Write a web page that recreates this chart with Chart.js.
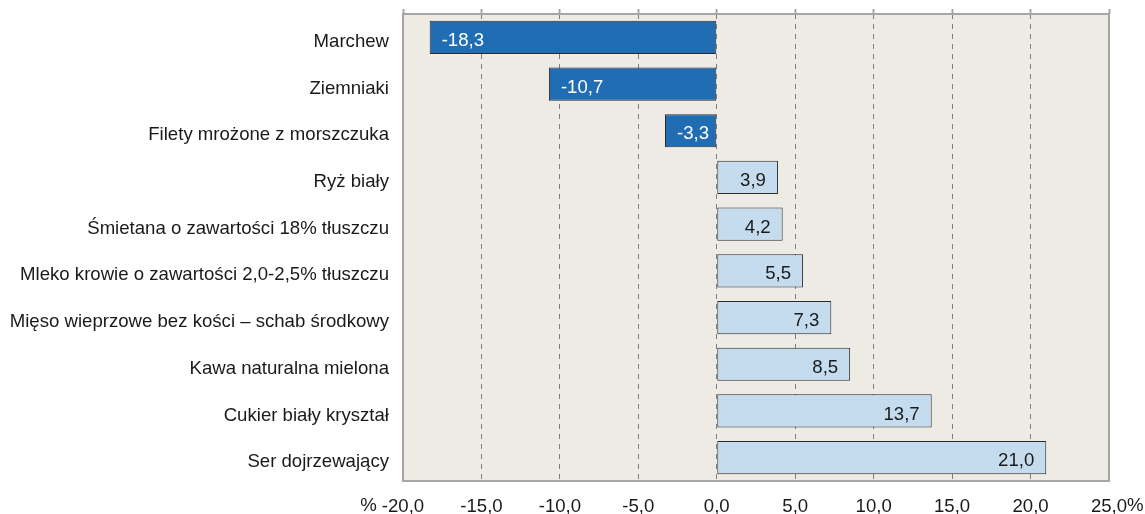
<!DOCTYPE html>
<html lang="pl">
<head>
<meta charset="utf-8">
<script src="https://cdn.jsdelivr.net/npm/chart.js@4.4.0/dist/chart.umd.min.js"></script>
<style>
  html, body { margin: 0; padding: 0; background: #fff; }
  #wrap { width: 1145px; height: 514px; }
</style>
</head>
<body>
<div id="wrap"><canvas id="chart" width="1145" height="514"></canvas></div>
<script>
// dane
const categories = [
    'Marchew',
    'Ziemniaki',
    'Filety mrożone z morszczuka',
    'Ryż biały',
    'Śmietana o zawartości 18% tłuszczu',
    'Mleko krowie o zawartości 2,0-2,5% tłuszczu',
    'Mięso wieprzowe bez kości – schab środkowy',
    'Kawa naturalna mielona',
    'Cukier biały kryształ',
    'Ser dojrzewający'
];
const changes = [-18.3, -10.7, -3.3, 3.9, 4.2, 5.5, 7.3, 8.5, 13.7, 21.0];
const xTicks = [-20, -15, -10, -5, 0, 5, 10, 15, 20, 25];
const xTickLabels = ['-20,0', '-15,0', '-10,0', '-5,0', '0,0', '5,0', '10,0', '15,0', '20,0', '25,0'];
const unitLabel = '%';

const FONT = "'Liberation Sans', Arial, sans-serif";
const FONT_SIZE = 18.6;
const DARK = '#216db3';
const LIGHT = '#c5dcef';
const PLOT_BG = '#eeebe4';
const FRAME = '#a6a6a6';

const fmt = v => v.toFixed(1).replace('.', ',');

// tło i ramka obszaru wykresu
const plotFrame = {
    id: 'plotFrame',
    beforeDraw(chart) {
        const { ctx, chartArea: a } = chart;
        ctx.save();
        ctx.fillStyle = PLOT_BG;
        ctx.fillRect(a.left, a.top, a.right - a.left, a.bottom - a.top);
        ctx.restore();
    },
    afterDatasetsDraw(chart) {
        const { ctx, chartArea: a } = chart;
        ctx.save();
        ctx.strokeStyle = FRAME;
        ctx.lineWidth = 2;
        ctx.strokeRect(a.left, a.top, a.right - a.left, a.bottom - a.top);
        ctx.restore();
    }
};

// etykiety wartości w słupkach
const barValues = {
    id: 'barValues',
    afterDatasetsDraw(chart) {
        const { ctx } = chart;
        const meta = chart.getDatasetMeta(0);
        ctx.save();
        ctx.font = `${FONT_SIZE}px ${FONT}`;
        ctx.textBaseline = 'middle';
        meta.data.forEach((bar, i) => {
            const v = changes[i];
            if (v < 0) {
                ctx.fillStyle = '#ffffff';
                ctx.textAlign = 'left';
                ctx.fillText(fmt(v), bar.x + 12, bar.y + 3.5);
            } else {
                ctx.fillStyle = '#1a1a1a';
                ctx.textAlign = 'right';
                ctx.fillText(fmt(v), bar.x - 12, bar.y + 3.5);
            }
        });
        ctx.restore();
    }
};

// znak % przy skrajnych etykietach osi
const unitMarks = {
    id: 'unitMarks',
    afterDraw(chart) {
        const { ctx } = chart;
        const x = chart.scales.x;
        const y = x.top + 25;
        ctx.save();
        ctx.font = `${FONT_SIZE}px ${FONT}`;
        ctx.fillStyle = '#1a1a1a';
        ctx.textBaseline = 'middle';
        const first = xTickLabels[0], last = xTickLabels[xTickLabels.length - 1];
        const x0 = x.getPixelForValue(xTicks[0]) - ctx.measureText(first).width / 2;
        ctx.textAlign = 'right';
        ctx.fillText(unitLabel, x0 - 5, y);
        const x1 = x.getPixelForValue(xTicks[xTicks.length - 1]) + ctx.measureText(last).width / 2;
        ctx.textAlign = 'left';
        ctx.fillText(unitLabel, x1, y);
        ctx.restore();
    }
};

new Chart(document.getElementById('chart'), {
    type: 'bar',
    data: {
        labels: categories,
        datasets: [{
            data: changes,
            backgroundColor: changes.map(v => v < 0 ? DARK : LIGHT),
            borderColor: '#2b2b2b',
            borderWidth: 1,
            borderSkipped: false,
            categoryPercentage: 1,
            barPercentage: 0.71
        }]
    },
    options: {
        indexAxis: 'y',
        responsive: false,
        animation: false,
        layout: { padding: { left: 0, right: 36, top: 0, bottom: 0 } },
        plugins: {
            legend: { display: false },
            tooltip: { enabled: false }
        },
        scales: {
            x: {
                type: 'linear',
                position: 'bottom',
                min: -20,
                max: 25,
                afterBuildTicks: s => { s.ticks = xTicks.map(v => ({ value: v })); },
                afterFit: s => { s.height = 33; s.paddingLeft = 0; s.paddingRight = 0; },
                grid: { color: '#7f7f7f', lineWidth: 1, drawTicks: false },
                border: { display: false, dash: [5, 5] },
                ticks: {
                    padding: 15,
                    color: '#1a1a1a',
                    font: { family: FONT, size: FONT_SIZE },
                    maxRotation: 0,
                    autoSkip: false,
                    callback: (v, i) => xTickLabels[i]
                }
            },
            x2: {
                type: 'linear',
                position: 'top',
                min: -20,
                max: 25,
                afterBuildTicks: s => { s.ticks = xTicks.map(v => ({ value: v })); },
                afterFit: s => { s.height = 14; s.paddingLeft = 0; s.paddingRight = 0; },
                grid: { drawOnChartArea: false, drawTicks: true, tickLength: 5, tickColor: FRAME, tickWidth: 2 },
                border: { display: false },
                ticks: { display: false }
            },
            y: {
                afterFit: s => { s.width = 403; s.paddingTop = 0; s.paddingBottom = 0; },
                grid: { display: false, drawTicks: false },
                border: { display: false },
                ticks: {
                    padding: 14,
                    labelOffset: 4.5,
                    color: '#1a1a1a',
                    font: { family: FONT, size: FONT_SIZE },
                    autoSkip: false
                }
            }
        }
    },
    plugins: [plotFrame, barValues, unitMarks]
});
</script>
</body>
</html>
